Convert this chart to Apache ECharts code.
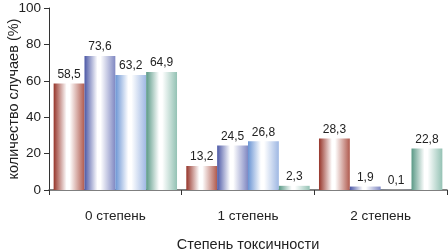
<!DOCTYPE html>
<html><head><meta charset="utf-8">
<script src="https://cdn.jsdelivr.net/npm/echarts@6/dist/echarts.min.js"></script>
<style>html,body{margin:0;padding:0;background:#fff}#c{width:448px;height:251px}</style>
</head><body><div id="c"></div>
<script>
const categories = ['0 степень', '1 степень', '2 степень'];
const series1 = [58.5, 13.2, 28.3];
const series2 = [73.6, 24.5, 1.9];
const series3 = [63.2, 26.8, 0.1];
const series4 = [64.9, 2.3, 22.8];
const yTicks = [0, 20, 40, 60, 80, 100];
const yTitle = 'количество случаев (%)';
const xTitle = 'Степень токсичности';

const FONT = '"Liberation Sans Narrow", "Liberation Sans", Arial, sans-serif';
function grad(a, b) {
  return new echarts.graphic.LinearGradient(0, 0, 1, 0, [
    {offset: 0, color: a}, {offset: 0.42, color: '#ffffff'}, {offset: 0.52, color: '#ffffff'}, {offset: 1, color: b}
  ]);
}
const colors = [
  ['#96352a', '#b05a4e'],
  ['#4c58a6', '#8088c2'],
  ['#6a94d4', '#9fb8e3'],
  ['#5a9986', '#94c2b4']
];
function mk(data, i) {
  return {
    type: 'bar', data: data, barGap: '0%', barCategoryGap: '7%',
    itemStyle: {color: grad(colors[i][0], colors[i][1])},
    label: {show: true, position: 'top', distance: 3, color: '#222', fontSize: 12, fontFamily: FONT,
      formatter: p => String(p.value).replace('.', ',')}
  };
}
const chart = echarts.init(document.getElementById('c'), null, {renderer: 'canvas'});
chart.setOption({
  animation: false,
  grid: {left: 49, right: 1, top: 8, bottom: 61, containLabel: false, outerBoundsMode: 'none'},
  xAxis: {
    type: 'category', data: categories,
    name: xTitle, nameLocation: 'middle', nameGap: 47, nameMoveOverlap: false,
    nameTextStyle: {fontSize: 14.5, color: '#222', fontFamily: FONT},
    axisLine: {lineStyle: {color: '#555', width: 1.5}},
    axisTick: {show: true, alignWithLabel: false, length: 5, lineStyle: {color: '#333'}},
    axisLabel: {fontSize: 13.5, color: '#222', fontFamily: FONT, margin: 19}
  },
  yAxis: {
    type: 'value', min: yTicks[0], max: yTicks[yTicks.length - 1], interval: 20,
    name: yTitle, nameLocation: 'middle', nameGap: 28, nameMoveOverlap: false,
    nameTextStyle: {fontSize: 14.5, color: '#222', fontFamily: FONT},
    axisLine: {show: true, lineStyle: {color: '#333', width: 1}},
    axisTick: {show: true, length: 5, lineStyle: {color: '#333'}},
    axisLabel: {fontSize: 13.5, color: '#222', fontFamily: FONT, margin: 8},
    splitLine: {show: false}
  },
  series: [mk(series1, 0), mk(series2, 1), mk(series3, 2), mk(series4, 3)]
});
</script></body></html>
